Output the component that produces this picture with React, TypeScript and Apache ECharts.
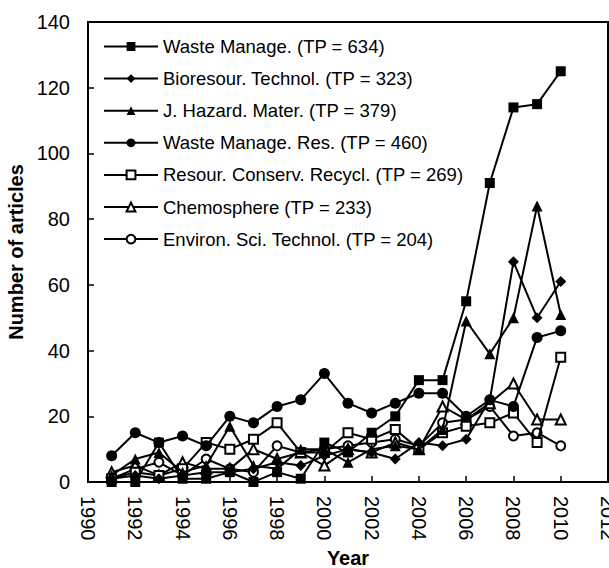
import React, { useEffect, useRef } from "react";
import * as echarts from "echarts";

const years = [1991, 1992, 1993, 1994, 1995, 1996, 1997, 1998, 1999, 2000, 2001, 2002, 2003, 2004, 2005, 2006, 2007, 2008, 2009, 2010];

const wasteManage = [0, 0, 12, 1, 1, 3, 0, 3, 1, 12, 9, 15, 20, 31, 31, 55, 91, 114, 115, 125];
const bioresour = [1, 2, 1, 2, 3, 3, 4, 6, 5, 8, 10, 9, 7, 12, 11, 13, 25, 67, 50, 61];
const jHazard = [2, 7, 9, 3, 5, 17, 5, 4, 10, 10, 6, 10, 11, 10, 16, 49, 39, 50, 84, 51];
const wasteManageRes = [8, 15, 12, 14, 11, 20, 18, 23, 25, 33, 24, 21, 24, 27, 27, 20, 25, 23, 44, 46];
const resourConserv = [1, 3, 2, 4, 12, 10, 13, 18, 9, 9, 15, 13, 16, 10, 15, 17, 18, 21, 12, 38];
const chemosphere = [3, 5, 2, 6, 4, 4, 10, 7, 9, 5, 10, 9, 12, 10, 23, 19, 24, 30, 19, 19];
const environSci = [1, 4, 6, 2, 7, 4, 3, 11, 9, 10, 11, 12, 13, 11, 18, 19, 23, 14, 15, 11];

const seriesNames = [
  "Waste Manage. (TP = 634)",
  "Bioresour. Technol. (TP = 323)",
  "J. Hazard. Mater. (TP = 379)",
  "Waste Manage. Res. (TP = 460)",
  "Resour. Conserv. Recycl. (TP = 269)",
  "Chemosphere (TP = 233)",
  "Environ. Sci. Technol. (TP = 204)",
];
const seriesValues = [wasteManage, bioresour, jHazard, wasteManageRes, resourConserv, chemosphere, environSci];
const symbols = ["rect", "diamond", "triangle", "circle", "emptyRect", "emptyTriangle", "emptyCircle"];
const symbolSizes = [10, 11, 11, 11, 9, 10, 9];

const FONT = "Arial, 'Liberation Sans', sans-serif";

export default function App() {
  const ref = useRef<HTMLDivElement>(null);
  useEffect(() => {
    if (!ref.current) return;
    const chart = echarts.init(ref.current, undefined, { renderer: "svg" });
    chart.setOption({
      animation: false,
      backgroundColor: "#fff",
      textStyle: { fontFamily: FONT },
      grid: {
        left: 88,
        right: 1,
        top: 22,
        bottom: 86,
        outerBoundsMode: "none",
        containLabel: false,
        show: true,
        borderColor: "#000",
        borderWidth: 2,
        backgroundColor: "transparent",
      },
      legend: {
        orient: "vertical",
        left: 103,
        top: 37,
        padding: 0,
        itemWidth: 54,
        itemHeight: 11,
        itemGap: 13.1,
        textStyle: { fontFamily: FONT, fontSize: 18.5, color: "#000" },
        data: seriesNames,
      },
      xAxis: {
        type: "value",
        min: 1990,
        max: 2012,
        interval: 2,
        name: "Year",
        nameLocation: "middle",
        nameGap: 64,
        nameTextStyle: { fontFamily: FONT, fontSize: 20, fontWeight: "bold", color: "#000" },
        axisLine: { show: true, lineStyle: { color: "#000", width: 2 } },
        axisTick: { show: true, inside: true, length: 6, lineStyle: { color: "#000", width: 1.5 } },
        axisLabel: {
          rotate: -90,
          margin: 14,
          fontSize: 20,
          color: "#000",
          fontFamily: FONT,
          formatter: (v: number) => String(v),
        },
        splitLine: { show: false },
      },
      yAxis: {
        type: "value",
        min: 0,
        max: 140,
        interval: 20,
        name: "Number of articles",
        nameLocation: "middle",
        nameRotate: 90,
        nameGap: 60,
        nameTextStyle: { fontFamily: FONT, fontSize: 20, fontWeight: "bold", color: "#000" },
        axisLine: { show: true, lineStyle: { color: "#000", width: 2 } },
        axisTick: { show: true, inside: true, length: 6, lineStyle: { color: "#000", width: 1.5 } },
        axisLabel: { margin: 18, fontSize: 20, color: "#000", fontFamily: FONT },
        splitLine: { show: false },
      },
      series: seriesNames.map((name, i) => ({
        name,
        type: "line",
        data: years.map((y, j) => [y, seriesValues[i][j]]),
        symbol: symbols[i],
        symbolSize: symbolSizes[i],
        showAllSymbol: true,
        lineStyle: { color: "#000", width: 2 },
        itemStyle: { color: "#000", borderColor: "#000", borderWidth: symbols[i].startsWith("empty") ? 2 : 0 },
        z: 10 - i,
      })),
    });
    return () => chart.dispose();
  }, []);
  return <div ref={ref} style={{ width: 609, height: 568, position: "absolute", left: 0, top: 0 }} />;
}
